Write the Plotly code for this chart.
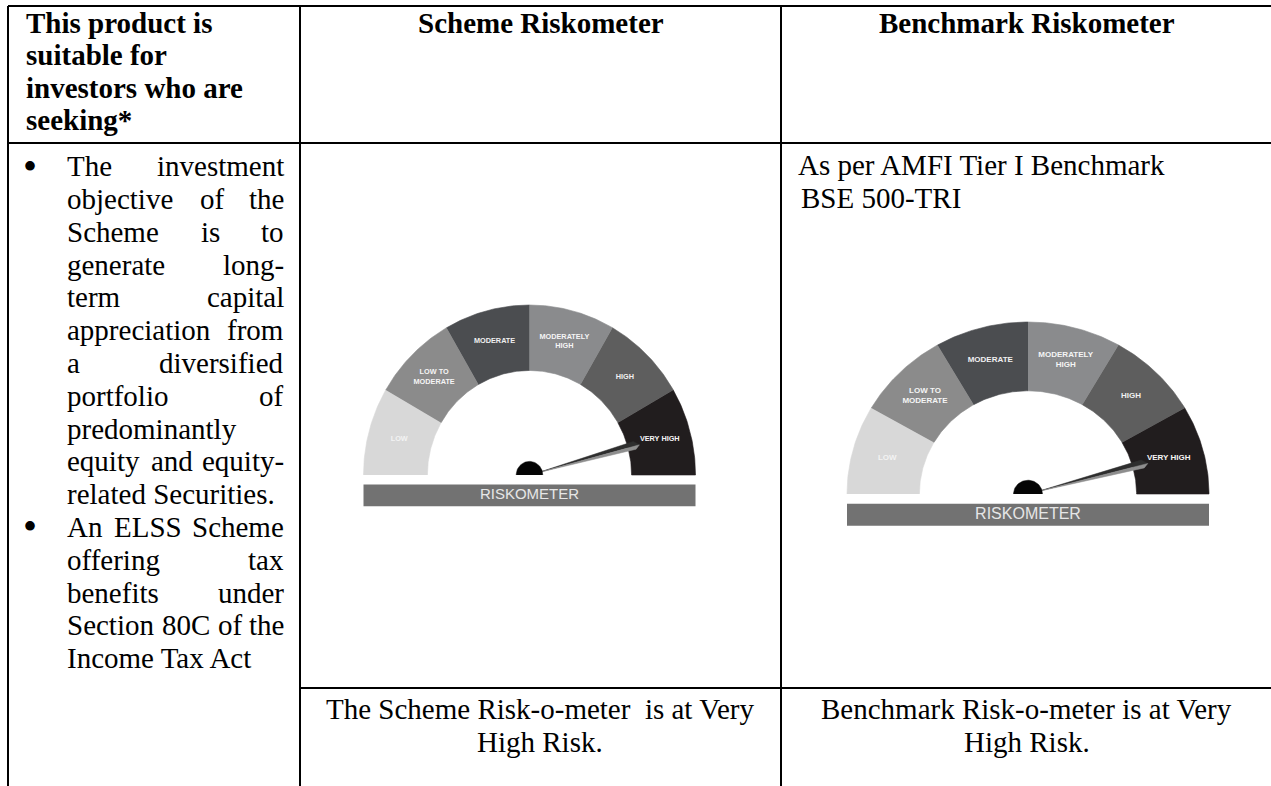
import math
import plotly.graph_objects as go

W, H = 1271, 786

# ---------------- data ----------------
header_col1 = ["This product is", "suitable for", "investors who are", "seeking*"]
header_col2 = "Scheme Riskometer"
header_col3 = "Benchmark Riskometer"
bullet1_lines = ["The investment", "objective of the", "Scheme is to", "generate long-",
                 "term capital", "appreciation from", "a diversified", "portfolio of",
                 "predominantly", "equity and equity-", "related Securities."]
bullet2_lines = ["An ELSS Scheme", "offering tax", "benefits under", "Section 80C of the",
                 "Income Tax Act"]
benchmark_note = ["As per AMFI Tier I Benchmark", "BSE 500-TRI"]
scheme_caption = ["The Scheme Risk-o-meter  is at Very", "High Risk."]
benchmark_caption = ["Benchmark Risk-o-meter is at Very", "High Risk."]
risk_levels = ["LOW", "LOW TO<br>MODERATE", "MODERATE", "MODERATELY<br>HIGH", "HIGH", "VERY HIGH"]
scheme_risk = "VERY HIGH"
benchmark_risk = "VERY HIGH"
gauge_title = "RISKOMETER"

# ---------------- styles ----------------
risk_colors = ["#d8d8d8", "#8b8b8b", "#4b4d50", "#8a8b8d", "#5e5e5e", "#211d1e"]
label_colors = ["#f3f3f3", "#f5f5f5", "#f0f0f0", "#f5f5f5", "#f0f0f0", "#f5f5f5"]
SERIF = "Liberation Serif, Times New Roman, serif"
SANS = "Liberation Sans, Arial, sans-serif"
FS = 29

# Times metrics (1/1000 em) used to justify lines
TW = {' ': 250, '-': 333, '.': 250, '*': 500, ',': 250,
      '0': 500, '1': 500, '2': 500, '3': 500, '4': 500, '5': 500, '6': 500, '7': 500, '8': 500, '9': 500,
      'A': 722, 'B': 667, 'C': 667, 'D': 722, 'E': 611, 'F': 556, 'G': 722, 'H': 722, 'I': 333,
      'J': 389, 'K': 722, 'L': 611, 'M': 889, 'N': 722, 'O': 722, 'P': 556, 'Q': 722, 'R': 667,
      'S': 556, 'T': 611, 'U': 722, 'V': 722, 'W': 944, 'X': 722, 'Y': 722, 'Z': 611,
      'a': 444, 'b': 500, 'c': 444, 'd': 500, 'e': 444, 'f': 333, 'g': 500, 'h': 500, 'i': 278,
      'j': 278, 'k': 500, 'l': 278, 'm': 778, 'n': 500, 'o': 500, 'p': 500, 'q': 500, 'r': 333,
      's': 389, 't': 278, 'u': 500, 'v': 500, 'w': 722, 'x': 500, 'y': 500, 'z': 444}


def tw(s, size):
    return sum(TW.get(ch, 500) for ch in s) * size / 1000.0


fig = go.Figure()


def add_text(text, x, baseline, size=FS, anchor="left", bold=False, family=SERIF, color="black",
             center=None):
    yc = center if center is not None else baseline - 0.34 * size
    fig.add_annotation(x=x, y=yc, xref="x", yref="y", text=text,
                       showarrow=False, xanchor=anchor, yanchor="middle", borderpad=0,
                       font=dict(family=family, size=size, color=color,
                                 weight="bold" if bold else "normal"))


# ---------------- table grid ----------------
X_L, X_C1, X_C2, X_R = 8, 300, 781, 1271
Y_T, Y_H, Y_B2 = 6, 143, 688
grid = [(X_L, Y_T, X_R, Y_T), (X_L, Y_T, X_L, H), (X_C1, Y_T, X_C1, H), (X_C2, Y_T, X_C2, H),
        (X_L, Y_H, X_R, Y_H), (X_C1, Y_B2, X_R, Y_B2)]
for x0, y0, x1, y1 in grid:
    fig.add_shape(type="line", x0=x0, y0=y0, x1=x1, y1=y1, xref="x", yref="y",
                  line=dict(color="black", width=2))

# ---------------- header ----------------
for i, line in enumerate(header_col1):
    add_text(line, 25, 33 + 32.2 * i, bold=True)
add_text(header_col2, (X_C1 + X_C2) / 2, 33, anchor="center", bold=True)
add_text(header_col3, (X_C2 + X_R) / 2 + 0.5, 33, anchor="center", bold=True)

# ---------------- bullet column (justified) ----------------
TL, TR = 66, 285
BASE0, LS = 176, 32.8
row = 0
for para in (bullet1_lines, bullet2_lines):
    for j, line in enumerate(para):
        b = BASE0 + LS * row
        if j == 0:
            add_text("\u2022", 30, b, size=40, anchor="center", center=b - 10)
        words = line.split(" ")
        last = (j == len(para) - 1)
        if last or len(words) == 1:
            add_text(line, TL, b)
        else:
            widths = [tw(w, FS) for w in words]
            gap = (TR - TL - sum(widths)) / (len(words) - 1)
            x = TL
            for k, w in enumerate(words):
                if k == len(words) - 1:
                    add_text(w, TR, b, anchor="right")
                else:
                    add_text(w, x, b)
                x += widths[k] + gap
        row += 1

# ---------------- benchmark note & captions ----------------
add_text(benchmark_note[0], 797, 175)
add_text(benchmark_note[1], 800, 207.8)
for i, line in enumerate(scheme_caption):
    add_text(line, (X_C1 + X_C2) / 2 - 1, 719 + 33 * i, anchor="center")
for i, line in enumerate(benchmark_caption):
    add_text(line, (X_C2 + X_R) / 2 + 0.5, 719 + 33 * i, anchor="center")


# ---------------- gauges ----------------
def arc(r, a0, a1, n=40):
    pts = []
    for t in range(n + 1):
        a = math.radians(a0 + (a1 - a0) * t / n)
        pts.append((r * math.cos(a), r * math.sin(a)))
    return pts


def add_gauge(k, cell, center, radii, inner, level, label_size, title_size):
    xa, ya = "x%d" % k, "y%d" % k
    cx, cy = center
    rx, ry = radii
    x0, y0, x1, y1 = cell
    fig.update_layout(**{
        "xaxis%d" % k: dict(domain=[x0 / W, x1 / W], range=[(x0 - cx) / rx, (x1 - cx) / rx],
                            visible=False, fixedrange=True, anchor="y%d" % k),
        "yaxis%d" % k: dict(domain=[1 - y1 / H, 1 - y0 / H], range=[(cy - y1) / ry, (cy - y0) / ry],
                            visible=False, fixedrange=True, anchor="x%d" % k),
    })
    n = len(risk_levels)
    span = 180.0 / n
    for i in range(n):
        a0 = 180 - i * span
        a1 = a0 - span
        pts = arc(1.0, a0, a1) + arc(inner, a1, a0)
        fig.add_trace(go.Scatter(x=[p[0] for p in pts], y=[p[1] for p in pts], xaxis=xa, yaxis=ya,
                                 mode="lines", fill="toself", fillcolor=risk_colors[i],
                                 line=dict(width=0.6, color=risk_colors[i]), hoverinfo="skip",
                                 showlegend=False))
    # needle
    idx = risk_levels.index(level)
    th = 180 - (idx + 0.5) * span

    def pol(r, a):
        a = math.radians(a)
        return (r * math.cos(a), r * math.sin(a))
    p0 = pol(0.05, th)
    p1 = pol(0.655, th + 2.5)
    p2 = pol(0.685, th)
    p3 = pol(0.66, th - 1.7)
    for pts, col in (([p0, p1, p2, p0], "#2e2e2e"), ([p0, p2, p3, p0], "#8e8e8e")):
        fig.add_trace(go.Scatter(x=[p[0] for p in pts], y=[p[1] for p in pts], xaxis=xa, yaxis=ya,
                                 mode="lines", fill="toself", fillcolor=col,
                                 line=dict(width=0.5, color=col), hoverinfo="skip", showlegend=False))
    # knob
    kn = arc(0.08, 0, 180)
    fig.add_trace(go.Scatter(x=[p[0] for p in kn], y=[p[1] for p in kn], xaxis=xa, yaxis=ya,
                             mode="lines", fill="toself", fillcolor="#050505",
                             line=dict(width=0.5, color="#050505"), hoverinfo="skip", showlegend=False))
    # title bar
    bt, bb = -0.056, -0.184
    fig.add_trace(go.Scatter(x=[-1, 1, 1, -1, -1], y=[bt, bt, bb, bb, bt], xaxis=xa, yaxis=ya,
                             mode="lines", fill="toself", fillcolor="#727272",
                             line=dict(width=0, color="#727272"), hoverinfo="skip", showlegend=False))
    fig.add_trace(go.Scatter(x=[0], y=[(bt + bb) / 2], xaxis=xa, yaxis=ya, mode="text",
                             text=[gauge_title], textposition="middle center",
                             textfont=dict(family=SANS, size=title_size, color="#e6e6e6"),
                             hoverinfo="skip", showlegend=False))
    # labels
    lr = (1 + inner) / 2 + 0.005
    lx, ly = [], []
    for i in range(n):
        a = math.radians(180 - (i + 0.5) * span)
        lx.append(lr * math.cos(a))
        ly.append(lr * math.sin(a))
    fig.add_trace(go.Scatter(x=lx, y=ly, xaxis=xa, yaxis=ya, mode="text", text=risk_levels,
                             textposition="middle center",
                             textfont=dict(family=SANS, size=label_size, color=label_colors,
                                           weight="bold"),
                             hoverinfo="skip", showlegend=False))


add_gauge(2, (X_C1, Y_H, X_C2, Y_B2), (529.5, 475), (166, 170), 0.615, scheme_risk, 7.3, 15)
add_gauge(3, (X_C2, Y_H, X_R, Y_B2), (1028, 494), (181, 172), 0.6, benchmark_risk, 8, 16)

fig.update_layout(
    width=W, height=H, autosize=False,
    margin=dict(l=0, r=0, t=0, b=0),
    paper_bgcolor="white", plot_bgcolor="rgba(0,0,0,0)",
    showlegend=False, hovermode=False,
    xaxis=dict(domain=[0, 1], range=[0, W], visible=False, fixedrange=True),
    yaxis=dict(domain=[0, 1], range=[H, 0], visible=False, fixedrange=True),
)

fig.write_html("out.html", config={"displayModeBar": False, "staticPlot": True},
               post_script="document.body.style.margin='0px';document.body.style.padding='0px';")
